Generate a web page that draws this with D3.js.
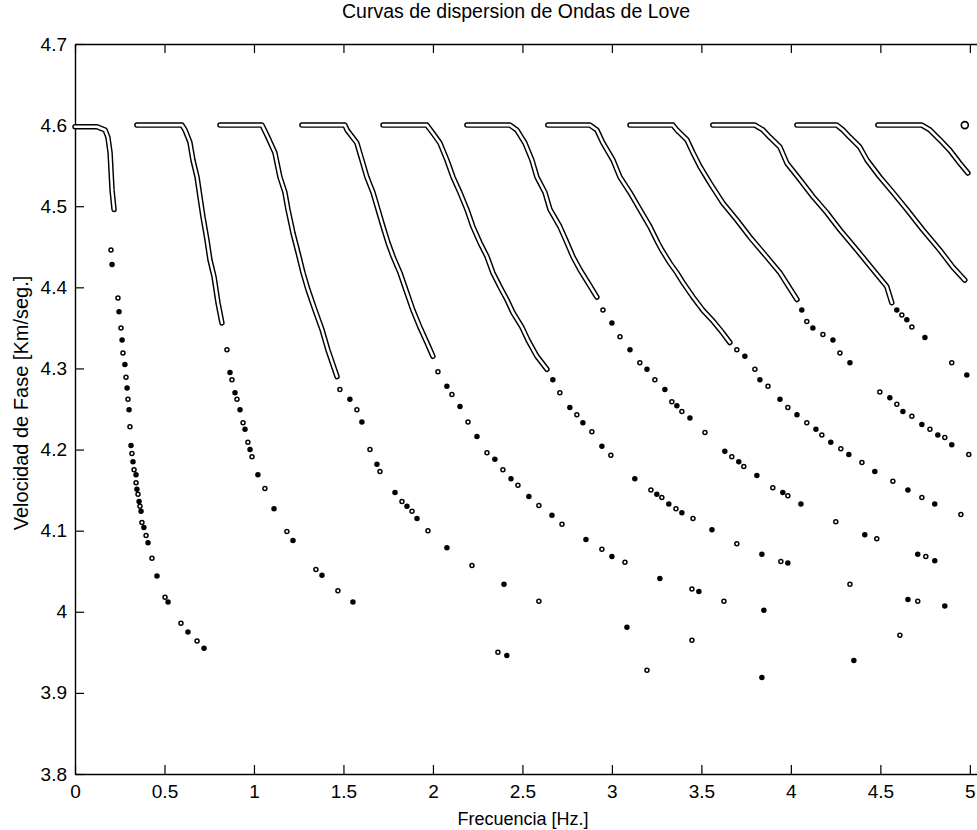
<!DOCTYPE html>
<html>
<head>
<meta charset="utf-8">
<script src="https://cdn.jsdelivr.net/npm/d3@7"></script>
<style>
  body { margin: 0; background: #fff; }
  text { font-family: "Liberation Sans", Arial, sans-serif; fill: #000; }
</style>
</head>
<body>
<div id="chart"></div>
<script>
// tick values
var xTicks = [0, 0.5, 1, 1.5, 2, 2.5, 3, 3.5, 4, 4.5, 5];
var yTicks = [3.8, 3.9, 4.0, 4.1, 4.2, 4.3, 4.4, 4.5, 4.6, 4.7];

// dense part of each mode: [frecuencia, velocidad]
var mode0Line = [[0,4.598],[0.123,4.598],[0.168,4.594],[0.184,4.585],[0.196,4.566],[0.207,4.52],[0.218,4.496]];
var mode1Line = [[0.346,4.6],[0.598,4.6],[0.615,4.594],[0.642,4.579],[0.659,4.557],[0.682,4.536],[0.698,4.512],[0.715,4.487],[0.737,4.459],[0.754,4.434],[0.777,4.413],[0.799,4.381],[0.821,4.356]];
var mode2Line = [[0.81,4.6],[1.045,4.6],[1.078,4.585],[1.117,4.566],[1.145,4.536],[1.173,4.517],[1.19,4.496],[1.218,4.467],[1.246,4.443],[1.274,4.418],[1.302,4.397],[1.341,4.372],[1.38,4.348],[1.413,4.323],[1.464,4.29]];
var mode3Line = [[1.268,4.6],[1.508,4.6],[1.52,4.594],[1.575,4.578],[1.603,4.557],[1.631,4.536],[1.665,4.517],[1.693,4.496],[1.721,4.475],[1.749,4.455],[1.777,4.438],[1.816,4.418],[1.855,4.393],[1.888,4.372],[1.927,4.351],[1.966,4.332],[2.0,4.315]];
var mode4Line = [[1.721,4.6],[1.966,4.6],[2.0,4.59],[2.039,4.578],[2.078,4.557],[2.112,4.536],[2.151,4.517],[2.19,4.496],[2.223,4.475],[2.263,4.455],[2.302,4.438],[2.335,4.418],[2.374,4.401],[2.413,4.385],[2.447,4.369],[2.497,4.351],[2.531,4.335],[2.581,4.315],[2.637,4.299]];
var mode5Line = [[2.19,4.6],[2.43,4.6],[2.469,4.594],[2.514,4.578],[2.553,4.557],[2.581,4.536],[2.626,4.517],[2.654,4.496],[2.709,4.475],[2.749,4.455],[2.782,4.438],[2.821,4.422],[2.866,4.406],[2.916,4.388]];
var mode6Line = [[2.642,4.6],[2.877,4.6],[2.916,4.594],[2.95,4.578],[3.006,4.557],[3.045,4.536],[3.101,4.517],[3.156,4.496],[3.212,4.475],[3.257,4.455],[3.279,4.446],[3.324,4.43],[3.363,4.418],[3.397,4.406],[3.453,4.388],[3.508,4.372],[3.559,4.36],[3.615,4.345],[3.659,4.332]];
var mode7Line = [[3.101,4.6],[3.341,4.6],[3.363,4.594],[3.419,4.582],[3.453,4.566],[3.492,4.549],[3.547,4.529],[3.62,4.504],[3.698,4.483],[3.771,4.462],[3.844,4.443],[3.939,4.418],[4.034,4.385]];
var mode8Line = [[3.564,4.6],[3.799,4.6],[3.844,4.594],[3.883,4.585],[3.939,4.573],[3.978,4.553],[4.05,4.533],[4.123,4.512],[4.201,4.492],[4.274,4.471],[4.369,4.446],[4.458,4.422],[4.536,4.401],[4.564,4.381]];
var mode9Line = [[4.034,4.6],[4.257,4.6],[4.291,4.594],[4.33,4.585],[4.385,4.573],[4.425,4.557],[4.497,4.536],[4.57,4.517],[4.648,4.496],[4.737,4.471],[4.832,4.446],[4.905,4.425],[4.972,4.409]];
var mode10Line = [[4.486,4.6],[4.732,4.6],[4.777,4.594],[4.832,4.582],[4.888,4.569],[4.944,4.553],[4.989,4.541]];

// sparse points of each mode
var mode0Dots = [[0.201,4.446],[0.207,4.428],[0.24,4.387],[0.246,4.37],[0.257,4.35],[0.263,4.335],[0.268,4.319],[0.279,4.305],[0.285,4.289],[0.291,4.276],[0.296,4.262],[0.302,4.249],[0.307,4.228],[0.313,4.205],[0.318,4.195],[0.324,4.185],[0.33,4.175],[0.341,4.169],[0.341,4.159],[0.346,4.151],[0.352,4.145],[0.358,4.136],[0.363,4.13],[0.369,4.124],[0.374,4.11],[0.385,4.104],[0.397,4.094],[0.408,4.085],[0.43,4.066],[0.458,4.044],[0.503,4.018],[0.52,4.012],[0.592,3.986],[0.631,3.975],[0.682,3.964],[0.721,3.955]];
var mode1Dots = [[0.849,4.323],[0.866,4.295],[0.877,4.286],[0.894,4.27],[0.905,4.262],[0.922,4.249],[0.939,4.233],[0.95,4.225],[0.966,4.209],[0.978,4.2],[0.989,4.191],[1.022,4.169],[1.061,4.152],[1.112,4.127],[1.184,4.099],[1.218,4.088],[1.346,4.052],[1.38,4.045],[1.469,4.026],[1.553,4.012],[2.363,3.95],[2.413,3.946],[3.196,3.928],[3.838,3.919]];
var mode2Dots = [[1.48,4.274],[1.536,4.262],[1.575,4.249],[1.603,4.234],[1.648,4.2],[1.687,4.182],[1.704,4.173],[1.788,4.147],[1.827,4.136],[1.855,4.13],[1.883,4.124],[1.911,4.115],[1.972,4.1],[2.078,4.079],[2.218,4.057],[2.397,4.034],[2.592,4.013],[3.084,3.981],[3.447,3.965],[4.352,3.94]];
var mode3Dots = [[2.028,4.296],[2.078,4.278],[2.106,4.268],[2.151,4.253],[2.196,4.234],[2.246,4.216],[2.302,4.196],[2.346,4.188],[2.391,4.175],[2.436,4.164],[2.475,4.156],[2.536,4.142],[2.592,4.131],[2.665,4.119],[2.721,4.108],[2.855,4.089],[2.944,4.077],[3.0,4.068],[3.073,4.061],[3.268,4.041],[3.447,4.028],[3.486,4.025],[3.626,4.013],[3.849,4.002],[4.609,3.971]];
var mode4Dots = [[2.67,4.286],[2.709,4.27],[2.765,4.252],[2.804,4.243],[2.838,4.233],[2.888,4.222],[2.944,4.204],[2.994,4.193],[3.128,4.164],[3.218,4.15],[3.251,4.145],[3.279,4.141],[3.318,4.133],[3.358,4.127],[3.391,4.122],[3.453,4.115],[3.559,4.101],[3.698,4.084],[3.838,4.071],[3.944,4.062],[3.983,4.06],[4.33,4.034],[4.654,4.015],[4.709,4.013],[4.86,4.007]];
var mode5Dots = [[2.95,4.372],[3.0,4.356],[3.045,4.339],[3.101,4.323],[3.156,4.307],[3.196,4.299],[3.24,4.286],[3.296,4.274],[3.335,4.259],[3.363,4.254],[3.391,4.247],[3.436,4.239],[3.52,4.221],[3.631,4.198],[3.67,4.191],[3.709,4.185],[3.737,4.179],[3.81,4.168],[3.899,4.153],[3.955,4.147],[3.983,4.143],[4.056,4.133],[4.251,4.111],[4.413,4.095],[4.48,4.09],[4.709,4.071],[4.754,4.068],[4.804,4.063]];
var mode6Dots = [[3.698,4.323],[3.743,4.315],[3.799,4.299],[3.827,4.286],[3.872,4.278],[3.939,4.262],[3.983,4.252],[4.034,4.243],[4.089,4.233],[4.14,4.225],[4.173,4.218],[4.223,4.209],[4.279,4.201],[4.324,4.194],[4.397,4.184],[4.469,4.173],[4.57,4.161],[4.654,4.15],[4.732,4.141],[4.804,4.133],[4.95,4.12]];
var mode7Dots = [[4.061,4.372],[4.089,4.358],[4.123,4.35],[4.179,4.342],[4.235,4.335],[4.274,4.319],[4.33,4.307],[4.497,4.271],[4.553,4.264],[4.592,4.256],[4.626,4.247],[4.676,4.241],[4.732,4.231],[4.777,4.225],[4.821,4.218],[4.86,4.215],[4.899,4.206],[4.994,4.194]];
var mode8Dots = [[4.592,4.372],[4.62,4.366],[4.648,4.36],[4.676,4.351],[4.749,4.338],[4.899,4.307],[4.983,4.292]];
var mode11Dots = [[4.972,4.6]];

var lineSets = [mode0Line, mode1Line, mode2Line, mode3Line, mode4Line, mode5Line,
                mode6Line, mode7Line, mode8Line, mode9Line, mode10Line];
var dotSets = [mode0Dots, mode1Dots, mode2Dots, mode3Dots, mode4Dots, mode5Dots,
               mode6Dots, mode7Dots, mode8Dots];

var width = 977, height = 830;
var plotLeft = 75, plotTop = 44, plotBottom = 774;

var svg = d3.select("#chart").append("svg")
  .attr("width", width)
  .attr("height", height);

// the scan is cut on the right, so the frame runs a little past 5
var x = d3.scaleLinear().domain([0, 5.04]).range([plotLeft, width]);
var y = d3.scaleLinear().domain([3.8, 4.7]).range([plotBottom, plotTop]);

var fmt = function(d) { return String(+d.toFixed(1)); };

// bottom axis with labels, ticks pointing in
var xAxis = svg.append("g")
  .attr("transform", "translate(0," + plotBottom + ")")
  .call(d3.axisBottom(x).tickValues(xTicks).tickSizeInner(-9).tickSizeOuter(0).tickPadding(10).tickFormat(fmt));
// top axis, ticks only
var xTop = svg.append("g")
  .attr("transform", "translate(0," + plotTop + ")")
  .call(d3.axisTop(x).tickValues(xTicks).tickSizeInner(-9).tickSizeOuter(0).tickFormat(""));
// left axis
var yAxis = svg.append("g")
  .attr("transform", "translate(" + plotLeft + ",0)")
  .call(d3.axisLeft(y).tickValues(yTicks).tickSizeInner(-9).tickSizeOuter(0).tickPadding(8).tickFormat(fmt));

svg.selectAll(".domain").attr("stroke", "#000").attr("stroke-width", 1.4);
svg.selectAll(".tick line").attr("stroke", "#000").attr("stroke-width", 1.2);
xAxis.selectAll("text").attr("font-size", 19).attr("dy", "0.75em");
yAxis.selectAll("text").attr("font-size", 19);

var line = d3.line()
  .x(function(d) { return x(d[0]); })
  .y(function(d) { return y(d[1]); });

var curves = svg.append("g");
// outline look of the overlapping markers: black stroke with a white core
curves.selectAll("path.outer")
  .data(lineSets)
  .enter()
  .append("path")
    .attr("class", "outer")
    .attr("d", line)
    .attr("fill", "none")
    .attr("stroke", "#000")
    .attr("stroke-width", 5.5)
    .attr("stroke-linecap", "round")
    .attr("stroke-linejoin", "round");
curves.selectAll("path.inner")
  .data(lineSets)
  .enter()
  .append("path")
    .attr("class", "inner")
    .attr("d", line)
    .attr("fill", "none")
    .attr("stroke", "#fff")
    .attr("stroke-width", 2.6)
    .attr("stroke-linecap", "round")
    .attr("stroke-linejoin", "round");

var dots = [];
dotSets.forEach(function(s) { dots = dots.concat(s); });

// scanned markers come out as a mix of open and filled specks
curves.selectAll("circle.pt")
  .data(dots)
  .enter()
  .append("circle")
    .attr("class", "pt")
    .attr("cx", function(d) { return x(d[0]); })
    .attr("cy", function(d) { return y(d[1]); })
    .attr("r", 2)
    .attr("fill", function(d, i) { return i % 2 ? "#000" : "#fff"; })
    .attr("stroke", "#000")
    .attr("stroke-width", 1.5);

curves.selectAll("circle.big")
  .data(mode11Dots)
  .enter()
  .append("circle")
    .attr("class", "big")
    .attr("cx", function(d) { return x(d[0]); })
    .attr("cy", function(d) { return y(d[1]); })
    .attr("r", 3.5)
    .attr("fill", "#fff")
    .attr("stroke", "#000")
    .attr("stroke-width", 1.6);

// title and axis labels
svg.append("text")
  .attr("x", 516).attr("y", 18)
  .attr("text-anchor", "middle")
  .attr("font-size", 19.5)
  .text("Curvas de dispersion de Ondas de Love");

svg.append("text")
  .attr("x", 523).attr("y", 825)
  .attr("text-anchor", "middle")
  .attr("font-size", 18)
  .text("Frecuencia [Hz.]");

svg.append("text")
  .attr("transform", "translate(28,403) rotate(-90)")
  .attr("text-anchor", "middle")
  .attr("font-size", 20)
  .text("Velocidad de Fase [Km/seg.]");
</script>
</body>
</html>
